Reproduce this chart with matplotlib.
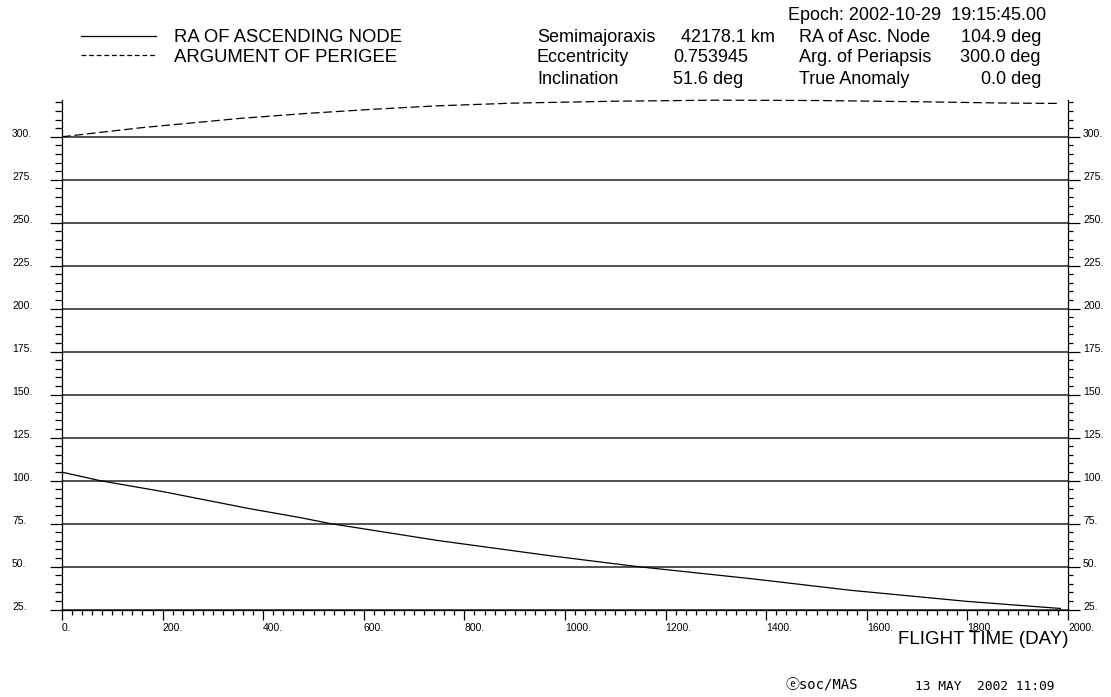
import matplotlib
matplotlib.use("Agg")
import matplotlib.pyplot as plt
from matplotlib.lines import Line2D
from matplotlib.ticker import MultipleLocator

plt.rcParams["font.family"] = ["Liberation Sans", "DejaVu Sans"]

# Orbit evolution over flight time (days)
raan_days = [0, 75, 200, 374, 473, 533, 748, 970, 1143, 1374, 1567, 1800, 1985]
raan_deg = [104.9, 100.0, 93.6, 83.6, 78.5, 75.0, 65.1, 56.3, 50.0, 42.8, 36.2, 29.7, 25.6]

aop_days = [0, 155, 354, 487, 618, 745, 900, 1100, 1300, 1500, 1700, 1880, 1985]
aop_deg = [300.0, 305.2, 310.7, 313.6, 316.0, 318.0, 319.6, 320.7, 321.3, 321.1, 320.4, 319.6, 319.4]

x_ticks = list(range(0, 2001, 200))
x_tick_labels = [f"{v}." for v in x_ticks]
y_ticks = list(range(25, 301, 25))
y_tick_labels = [f"{v}." for v in y_ticks]

series_labels = ["RA OF ASCENDING NODE", "ARGUMENT OF PERIGEE"]

W, H = 1111, 697
fig = plt.figure(figsize=(W / 100, H / 100), dpi=100)
fig.patch.set_facecolor("white")


def fx(px):
    return px / W


def fy(py):
    return 1 - py / H


left, right, top, bottom = 62, 1068, 100, 609.5
ax = fig.add_axes([fx(left), fy(bottom), fx(right - left), (bottom - top) / H])

ax.plot(raan_days, raan_deg, color="black", lw=0.9, clip_on=False, zorder=3)
ax.plot(aop_days, aop_deg, color="black", lw=0.9, linestyle=(0, (7, 3)),
        clip_on=False, zorder=3)

ax.set_xlim(0, 2000)
ax.set_ylim(25, 321.4)

ax.spines["top"].set_visible(False)
ax.spines["right"].set_visible(False)
for s in ("left", "bottom"):
    ax.spines[s].set_linewidth(0.9)

# x axis: labels start at their tick
ax.set_xticks(x_ticks)
ax.set_xticklabels(x_tick_labels, ha="left")
ax.xaxis.set_minor_locator(MultipleLocator(20))
ax.tick_params(axis="x", which="major", direction="out", length=7.2, width=0.9,
               pad=2.5, labelsize=7.5)
ax.tick_params(axis="x", which="minor", direction="out", length=3.6, width=0.9)

# left y axis: labels flush left at the figure margin
ax.set_yticks(y_ticks)
ax.set_yticklabels(y_tick_labels)
ax.yaxis.set_minor_locator(MultipleLocator(5))
ax.tick_params(axis="y", which="both", left=True, right=False, direction="out",
               width=0.9, labelsize=7.5)
ax.tick_params(axis="y", which="major", length=8.6, pad=27.4)
ax.tick_params(axis="y", which="minor", length=4.8)
for lab in ax.get_yticklabels():
    lab.set_horizontalalignment("left")
    lab.set_verticalalignment("baseline")

ax.grid(axis="y", which="major", color="#222222", lw=1.1)
ax.set_axisbelow(True)

# right y axis with the same scale
ax2 = ax.twinx()
ax2.set_ylim(ax.get_ylim())
for s in ("top", "left", "bottom"):
    ax2.spines[s].set_visible(False)
ax2.spines["right"].set_linewidth(0.9)
ax2.set_yticks(y_ticks)
ax2.set_yticklabels(y_tick_labels)
ax2.yaxis.set_minor_locator(MultipleLocator(5))
ax2.tick_params(axis="y", which="both", direction="out", width=0.9, labelsize=7.5)
ax2.tick_params(axis="y", which="major", length=8.6, pad=2.2)
ax2.tick_params(axis="y", which="minor", length=3.8)
for lab in ax2.get_yticklabels():
    lab.set_verticalalignment("baseline")

# legend in the header
handles = [Line2D([], [], color="black", lw=0.9),
           Line2D([], [], color="black", lw=0.9, linestyle=(0, (3.8, 2.3)))]
fig.legend(handles, series_labels, loc="upper left",
           bbox_to_anchor=(fx(81), fy(29.5)), frameon=False, fontsize=13.3,
           handlelength=4.05, handletextpad=0.97, labelspacing=0.12,
           borderpad=0, borderaxespad=0)

# orbital elements block
fs = 13
fig.text(fx(1046), fy(15), "Epoch: 2002-10-29  19:15:45.00", fontsize=fs,
         va="center", ha="right")
rows = [37, 58, 80]
col1 = ["Semimajoraxis", "Eccentricity", "Inclination"]
col3 = ["RA of Asc. Node", "Arg. of Periapsis", "True Anomaly"]
col4 = ["104.9 deg", "300.0 deg", "0.0 deg"]
for y, t in zip(rows, col1):
    fig.text(fx(537), fy(y), t, fontsize=fs, va="center")
fig.text(fx(775), fy(rows[0]), "42178.1 km", fontsize=fs, va="center", ha="right")
fig.text(fx(673), fy(rows[1]), "0.753945", fontsize=fs, va="center")
fig.text(fx(673), fy(rows[2]), "51.6 deg", fontsize=fs, va="center")
for y, t in zip(rows, col3):
    fig.text(fx(799), fy(y), t, fontsize=fs, va="center")
for y, t in zip(rows, col4):
    fig.text(fx(1041), fy(y), t, fontsize=fs, va="center", ha="right")

# axis title and footer
fig.text(fx(1068), fy(640), "FLIGHT TIME (DAY)", fontsize=13.5, va="center", ha="right")
fig.text(fx(785), fy(685), "\u24d4soc/MAS", fontsize=10,
         family=["DejaVu Sans Mono", "Noto Sans CJK JP"], va="center")
fig.text(fx(915), fy(687), "13 MAY  2002 11:09", fontsize=9.3,
         family=["DejaVu Sans Mono"], va="center")

fig.savefig("out.png", dpi=100, facecolor="white")
